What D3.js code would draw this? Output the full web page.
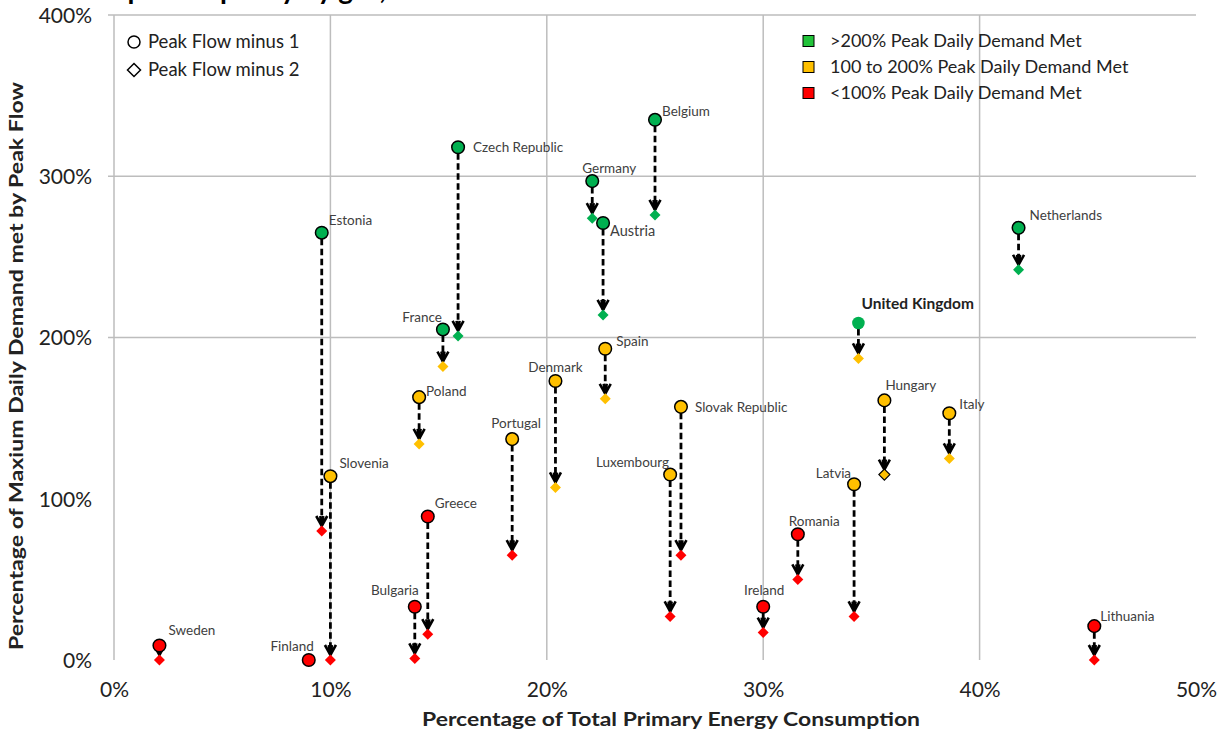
<!DOCTYPE html>
<html>
<head>
<meta charset="utf-8">
<script src="https://cdn.jsdelivr.net/npm/d3@7/dist/d3.min.js"></script>
<style>
  html, body { margin: 0; padding: 0; background: #fff; }
  svg { display: block; font-family: Lato, "Open Sans", sans-serif; }
</style>
</head>
<body>
<svg id="chart" width="1220" height="733"></svg>
<script>
// ---------------- data ----------------
const countries = ["Sweden","Finland","Estonia","Slovenia","Bulgaria","Poland","Greece","France",
  "Czech Republic","Portugal","Denmark","Germany","Austria","Spain","Belgium","Luxembourg",
  "Slovak Republic","Ireland","Romania","Latvia","United Kingdom","Hungary","Italy","Netherlands","Lithuania"];
const energyShare = [2.1, 9.0, 9.6, 10.0, 13.9, 14.1, 14.5, 15.2,
  15.9, 18.4, 20.4, 22.1, 22.6, 22.7, 25.0, 25.7,
  26.2, 30.0, 31.6, 34.2, 34.4, 35.6, 38.6, 41.8, 45.3];
const peakMinus1 = [9, 0, 265, 114, 33, 163, 89, 205,
  318, 137, 173, 297, 271, 193, 335, 115,
  157, 33, 78, 109, 209, 161, 153, 268, 21];
const peakMinus2 = [0, 0, 80, 0, 1, 134, 16, 182,
  201, 65, 107, 274, 214, 162, 276, 27,
  65, 17, 50, 27, 187, 115, 125, 242, 0];
const xTicks = [0, 10, 20, 30, 40, 50];
const yTicks = [0, 100, 200, 300, 400];
const yGrid = [200, 300, 400];
const bandLabels = [">200% Peak Daily Demand Met", "100 to 200% Peak Daily Demand Met", "<100% Peak Daily Demand Met"];
const seriesLabels = ["Peak Flow minus 1", "Peak Flow minus 2"];

// --------------- label layout (style only) ---------------
const labelLayout = {
  "Sweden": [9, -10, "start"], "Finland": [5, -9, "end"], "Estonia": [7, -8, "start"],
  "Slovenia": [9, -8, "start"], "Bulgaria": [4, -12, "end"], "Poland": [7, -1, "start"],
  "Greece": [7, -8, "start"], "France": [-1, -7, "end"], "Czech Republic": [15, 5, "start"],
  "Portugal": [4, -11, "middle"], "Denmark": [0, -9, "middle"], "Germany": [17, -8, "middle"],
  "Austria": [7, 13, "start"], "Spain": [11, -3, "start"], "Belgium": [7, -4, "start"],
  "Luxembourg": [-1, -8, "end"], "Slovak Republic": [14, 5, "start"], "Ireland": [1, -12, "middle"],
  "Romania": [-9, -8, "start"], "Latvia": [-3, -6, "end"], "United Kingdom": [3, -14, "start"],
  "Hungary": [1, -10, "start"], "Italy": [10, -4, "start"], "Netherlands": [11, -8, "start"],
  "Lithuania": [6, -5, "start"]
};

const data = countries.map((c, i) => ({ c, x: energyShare[i], n1: peakMinus1[i], n2: peakMinus2[i] }));

const svg = d3.select("#chart");
const x = d3.scaleLinear().domain([0, 50]).range([114, 1196]);
const y = d3.scaleLinear().domain([0, 400]).range([660, 15]);
const colour = d3.scaleThreshold().domain([100, 200]).range(["#FF0000", "#FFC000", "#00B050"]);
const legendColour = ["#22C33A", "#FFC000", "#FF0000"];
const diamondPath = r => `M0,${-r}L${r},0L0,${r}L${-r},0Z`;

// title (clipped at top like the reference)
svg.append("text").attr("x", 96).attr("y", -1).attr("font-size", 28).attr("font-weight", "bold")
  .attr("fill", "#000").text("Import Capacity by gas, 2013");

// grid
const grid = svg.append("g").attr("stroke", "#BDBDBD").attr("stroke-width", 1.5);
grid.selectAll("line.v").data(xTicks.filter(t => t > 0 && t < 50)).join("line")
  .attr("x1", d => x(d)).attr("x2", d => x(d)).attr("y1", y(400)).attr("y2", y(0));
grid.selectAll("line.h").data(yGrid).join("line")
  .attr("x1", x(0) - 6).attr("x2", x(50)).attr("y1", d => y(d)).attr("y2", d => y(d));
svg.append("line").attr("x1", x(0)).attr("x2", x(0)).attr("y1", y(400)).attr("y2", y(0))
  .attr("stroke", "#BDBDBD").attr("stroke-width", 1.5);

// tick labels using d3 axes
const yAxis = svg.append("g").attr("transform", `translate(${x(0) - 19},0)`)
  .call(d3.axisLeft(y).tickValues(yTicks).tickFormat(d => d + "%").tickSize(0));
yAxis.select(".domain").remove();
yAxis.selectAll("text").attr("font-size", 21).attr("font-family", "Lato, sans-serif").attr("fill", "#222").attr("dy", "0.35em");

const xAxis = svg.append("g").attr("transform", `translate(0,${y(0) + 19})`)
  .call(d3.axisBottom(x).tickValues(xTicks).tickFormat(d => d + "%").tickSize(0));
xAxis.select(".domain").remove();
xAxis.selectAll("text").attr("font-size", 21).attr("font-family", "Lato, sans-serif").attr("fill", "#222").attr("dy", "0.71em");

// axis titles
svg.append("text").attr("x", 671).attr("y", 726).attr("text-anchor", "middle")
  .attr("font-size", 18).attr("font-weight", "bold").attr("fill", "#222")
  .attr("textLength", 498).attr("lengthAdjust", "spacingAndGlyphs")
  .text("Percentage of Total Primary Energy Consumption");
svg.append("text").attr("transform", "translate(23,366) rotate(-90)").attr("text-anchor", "middle")
  .attr("font-size", 18).attr("font-weight", "bold").attr("fill", "#222")
  .attr("textLength", 568).attr("lengthAdjust", "spacingAndGlyphs")
  .text("Percentage of Maxium Daily Demand met by Peak Flow");

// arrow marker
svg.append("defs").append("marker").attr("id", "arr").attr("markerUnits", "userSpaceOnUse")
  .attr("viewBox", "-12 -7 14 14").attr("refX", 0).attr("refY", 0)
  .attr("markerWidth", 14).attr("markerHeight", 14).attr("orient", "auto")
  .append("path").attr("d", "M-10,-5.5 L0,0 L-10,5.5 M-10,-1.5 L0,0 L-10,1.5")
  .attr("fill", "none").attr("stroke", "#000").attr("stroke-width", 2.6);

// arrows
svg.append("g").selectAll("line").data(data.filter(d => y(d.n2) - y(d.n1) > 3)).join("line")
  .attr("x1", d => x(d.x)).attr("x2", d => x(d.x))
  .attr("y1", d => y(d.n1) + 6).attr("y2", d => y(d.n2) - 5)
  .attr("stroke", "#000").attr("stroke-width", 2.8).attr("stroke-dasharray", "6.5,3.5")
  .attr("marker-end", "url(#arr)");

// diamonds
svg.append("g").selectAll("path").data(data).join("path")
  .attr("transform", d => `translate(${x(d.x)},${y(d.n2)})`)
  .attr("d", diamondPath(5.5))
  .attr("fill", d => colour(d.n2))
  .attr("stroke", d => d.c === "Hungary" ? "#000" : "none").attr("stroke-width", 1.2);

// circles
svg.append("g").selectAll("circle").data(data).join("circle")
  .attr("cx", d => x(d.x)).attr("cy", d => y(d.n1)).attr("r", 6.3)
  .attr("fill", d => colour(d.n1))
  .attr("stroke", d => d.c === "United Kingdom" ? "none" : "#000").attr("stroke-width", 1.5);

// labels
svg.append("g").selectAll("text").data(data).join("text")
  .attr("x", d => x(d.x) + labelLayout[d.c][0]).attr("y", d => y(d.n1) + labelLayout[d.c][1])
  .attr("text-anchor", d => labelLayout[d.c][2])
  .attr("font-size", d => d.c === "United Kingdom" ? 15.5 : (d.c === "Austria" ? 14.5 : 13.5))
  .attr("font-weight", d => d.c === "United Kingdom" ? "bold" : "normal")
  .attr("fill", d => d.c === "United Kingdom" ? "#222" : "#404040")
  .text(d => d.c);

// legend: series
const lg1 = svg.append("g");
seriesLabels.forEach((s, i) => {
  const cy = 42 + i * 28;
  if (i === 0) lg1.append("circle").attr("cx", 134).attr("cy", cy).attr("r", 6).attr("fill", "#fff").attr("stroke", "#000").attr("stroke-width", 1.5);
  else lg1.append("path").attr("transform", `translate(134,${cy})`).attr("d", diamondPath(6.5)).attr("fill", "#fff").attr("stroke", "#000").attr("stroke-width", 1.5);
  lg1.append("text").attr("x", 148).attr("y", cy + 6).attr("font-size", 18.5).attr("fill", "#222").text(s);
});

// legend: bands
const lg2 = svg.append("g");
bandLabels.forEach((s, i) => {
  const cy = 41 + i * 26;
  lg2.append("rect").attr("x", 803).attr("y", cy - 5.5).attr("width", 11).attr("height", 11)
    .attr("fill", legendColour[i]).attr("stroke", "#000").attr("stroke-width", 1);
  lg2.append("text").attr("x", 830).attr("y", cy + 6).attr("font-size", 18).attr("fill", "#222").text(s);
});
</script>
</body>
</html>
